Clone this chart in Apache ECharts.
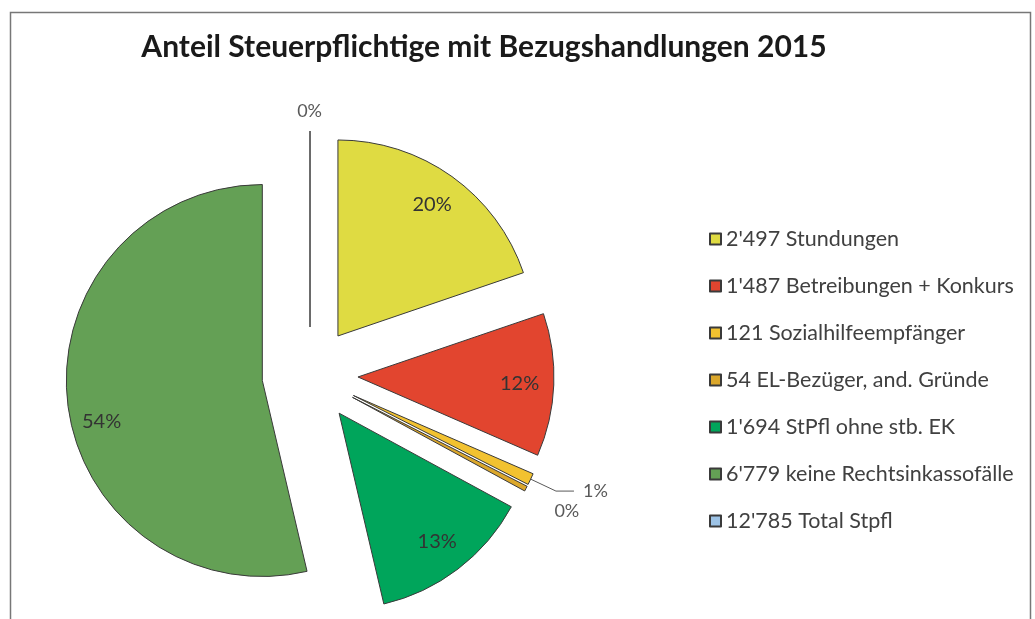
<!DOCTYPE html>
<html>
<head>
<meta charset="utf-8">
<script src="https://cdn.jsdelivr.net/npm/echarts@6/dist/echarts.min.js"></script>
<style>
  html, body { margin: 0; padding: 0; background: #fff; }
  #chart { width: 1035px; height: 619px; }
</style>
</head>
<body>
<div id="chart"></div>
<script>
// Werte aus der Grafik
const names = [
    "2'497 Stundungen",
    "1'487 Betreibungen + Konkurs",
    "121 Sozialhilfeempfänger",
    "54 EL-Bezüger, and. Gründe",
    "1'694 StPfl ohne stb. EK",
    "6'779 keine Rechtsinkassofälle",
    "12'785 Total Stpfl"
];
const values = [2497, 1487, 121, 54, 1694, 6779, 0];
const colors = ['#dfdb42', '#e2452f', '#f2c230', '#dba72b', '#00a55b', '#64a055', '#9dc3e6'];
const insideLabel = [true, true, false, false, true, true, false];

const chart = echarts.init(document.getElementById('chart'));

const R = 196;
const center = [310, 375];
const font = 'Lato, "Open Sans", sans-serif';

// Hauptkreis mit Rändern und den Beschriftungen aussen
const mainData = names.map((n, i) => {
    const item = {
        name: n,
        value: values[i],
        selected: true,
        itemStyle: { color: colors[i] },
        label: { show: !insideLabel[i] }
    };
    if (i === 2) {
        item.labelLine = { length: 28, length2: 18 };
        item.label = { show: true, padding: [0, 0, 14, 4] };
    }
    if (i === 3) {
        item.labelLine = { show: false, length: 48, length2: 0 };
        item.label = { show: true, distanceToLabelLine: -14 };
    }
    if (i === 6) {
        item.labelLine = { show: false, length: 20, length2: 0 };
        item.label = { show: true, distanceToLabelLine: -12 };
    }
    return item;
});

// transparenter Ring nur fuer die Prozente innen
const labelData = names.map((n, i) => ({
    name: n,
    value: values[i],
    selected: true,
    itemStyle: { color: 'rgba(0,0,0,0)', borderWidth: 0 },
    label: { show: insideLabel[i] }
}));

chart.setOption({
    animation: false,
    title: {
        text: 'Anteil Steuerpflichtige mit Bezugshandlungen 2015',
        left: 479,
        top: 27,
        textAlign: 'center',
        textStyle: { fontFamily: font, fontSize: 30, fontWeight: 'bold', color: '#1a1a1a' }
    },
    legend: {
        orient: 'vertical',
        left: 704,
        top: 223,
        icon: 'rect',
        itemWidth: 11,
        itemHeight: 11,
        itemGap: 25,
        selectedMode: false,
        data: names,
        textStyle: { fontFamily: font, fontSize: 21.5, color: '#404040' }
    },
    graphic: [{
        type: 'rect',
        shape: { x: 10.5, y: 12.5, width: 1020, height: 700 },
        style: { fill: 'none', stroke: '#777', lineWidth: 1.5 },
        silent: true
    }],
    series: [{
        type: 'pie',
        center: center,
        radius: R,
        startAngle: 90,
        clockwise: true,
        selectedMode: 'multiple',
        selectedOffset: 48,
        avoidLabelOverlap: false,
        minShowLabelAngle: 0,
        percentPrecision: 0,
        itemStyle: { borderColor: '#3a3a3a', borderWidth: 1 },
        label: {
            position: 'outside',
            formatter: '{d}%',
            fontFamily: font,
            fontSize: 18,
            color: '#595959'
        },
        labelLine: {
            show: true,
            length: 14,
            length2: 22,
            smooth: false,
            lineStyle: { color: '#595959', width: 1 }
        },
        labelLayout: { hideOverlap: false },
        emphasis: { disabled: true },
        data: mainData
    }, {
        type: 'pie',
        center: center,
        radius: [R * 0.62, R],
        startAngle: 90,
        clockwise: true,
        selectedMode: 'multiple',
        selectedOffset: 48,
        percentPrecision: 0,
        silent: true,
        label: {
            position: 'inside',
            formatter: '{d}%',
            fontFamily: font,
            fontSize: 20,
            color: '#333'
        },
        labelLine: { show: false },
        labelLayout: function (p) {
            return p.dataIndex === 5 ? { dy: 22 } : {};
        },
        emphasis: { disabled: true },
        data: labelData
    }]
});
</script>
</body>
</html>
